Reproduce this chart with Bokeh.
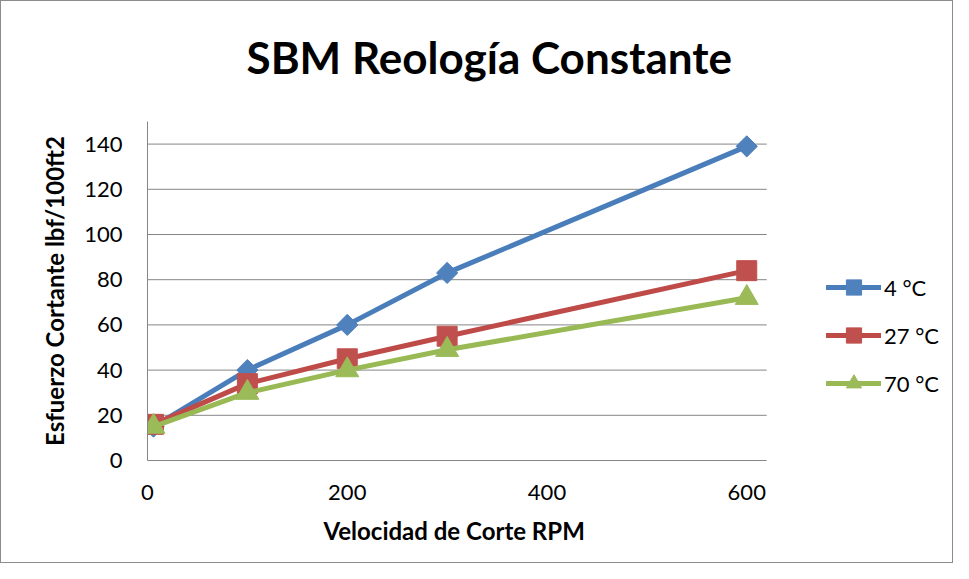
from bokeh.plotting import figure
from bokeh.models import FixedTicker, Legend, LegendItem, Range1d, Title
from bokeh.embed import file_html
from bokeh.resources import INLINE

# data
rpm = [6, 100, 200, 300, 600]
s_4c = [15, 40, 60, 83, 139]
s_27c = [16, 34, 45, 55, 84]
s_70c = [15, 30, 40, 49, 72]
names = ["4 °C", "27 °C", "70 °C"]
x_ticks = [0, 200, 400, 600]
y_ticks = [0, 20, 40, 60, 80, 100, 120, 140]

X_AXIS_MAX = 620
FONT = "Lato"
GRAY = "#868686"

p = figure(width=953, height=563, output_backend="svg", toolbar_location=None,
           x_range=Range1d(0, 800), y_range=Range1d(0, 150),
           min_border_left=146, min_border_right=8, min_border_top=120,
           min_border_bottom=104)
p.styles = {"border": "1px solid #8c8c8c", "box-sizing": "border-box"}
p.outline_line_color = None
p.background_fill_color = "white"
p.border_fill_color = "white"

# spacer between the title and the plot area
p.add_layout(Title(text=" ", text_font_size="2px", standoff=20), "above")
main_title = Title(text="SBM Reología Constante", align="left", offset=99, standoff=30,
                   text_font=FONT, text_font_size="44px", text_font_style="bold",
                   text_color="black")
p.add_layout(main_title, "above")

p.xaxis.ticker = FixedTicker(ticks=x_ticks)
p.yaxis.ticker = FixedTicker(ticks=y_ticks)
p.xaxis.bounds = (0, X_AXIS_MAX)
for ax in (p.xaxis, p.yaxis):
    ax.axis_line_color = GRAY
    ax.axis_line_width = 1
    ax.major_tick_line_color = None
    ax.minor_tick_line_color = None
    ax.major_tick_out = 0
    ax.major_tick_in = 0
    ax.major_label_text_font = FONT
    ax.major_label_text_font_size = "22px"
    ax.major_label_text_color = "black"
    ax.axis_label_text_font = FONT
    ax.axis_label_text_font_size = "24px"
    ax.axis_label_text_font_style = "bold"
    ax.axis_label_text_color = "black"
p.yaxis.axis_label = "Esfuerzo Cortante lbf/100ft2"
p.xaxis.major_label_standoff = 24
p.yaxis.major_label_standoff = 25
p.yaxis.axis_label_standoff = 12

xlabel = Title(text="Velocidad de Corte RPM", align="left", offset=176, standoff=22,
               text_font=FONT, text_font_size="24px", text_font_style="bold",
               text_color="black")
p.add_layout(xlabel, "below")

# horizontal gridlines limited to the axis extent
p.xgrid.grid_line_color = None
p.ygrid.grid_line_color = None
p.segment(x0=[0] * len(y_ticks), x1=[X_AXIS_MAX] * len(y_ticks),
          y0=y_ticks, y1=y_ticks, line_color=GRAY, line_width=1)

series = [
    (s_4c, "#4A7EBB", "#4F81BD", "square", 15, 0.785398),
    (s_27c, "#BE4B48", "#C0504D", "square", 20, 0.0),
    (s_70c, "#98B954", "#9BBB59", "triangle", 23, 0.0),
]
items = []
for (vals, lc, mc, mk, sz, ang), name in zip(series, names):
    ln = p.line(rpm, vals, line_color=lc, line_width=5, line_join="round", line_cap="round")
    sc = p.scatter(rpm, vals, marker=mk, size=sz, angle=ang, fill_color=mc,
                   line_color=mc, line_width=1)
    items.append(LegendItem(label=name, renderers=[ln, sc]))

legend = Legend(items=items, location=(679, 58), padding=0, margin=0,
                border_line_color=None, background_fill_alpha=0,
                glyph_width=55, glyph_height=38, label_height=38,
                label_standoff=3, spacing=10,
                label_text_font=FONT, label_text_font_size="22px",
                label_text_color="black")
p.add_layout(legend, "center")

open("out.html", "w").write(file_html(p, INLINE))
